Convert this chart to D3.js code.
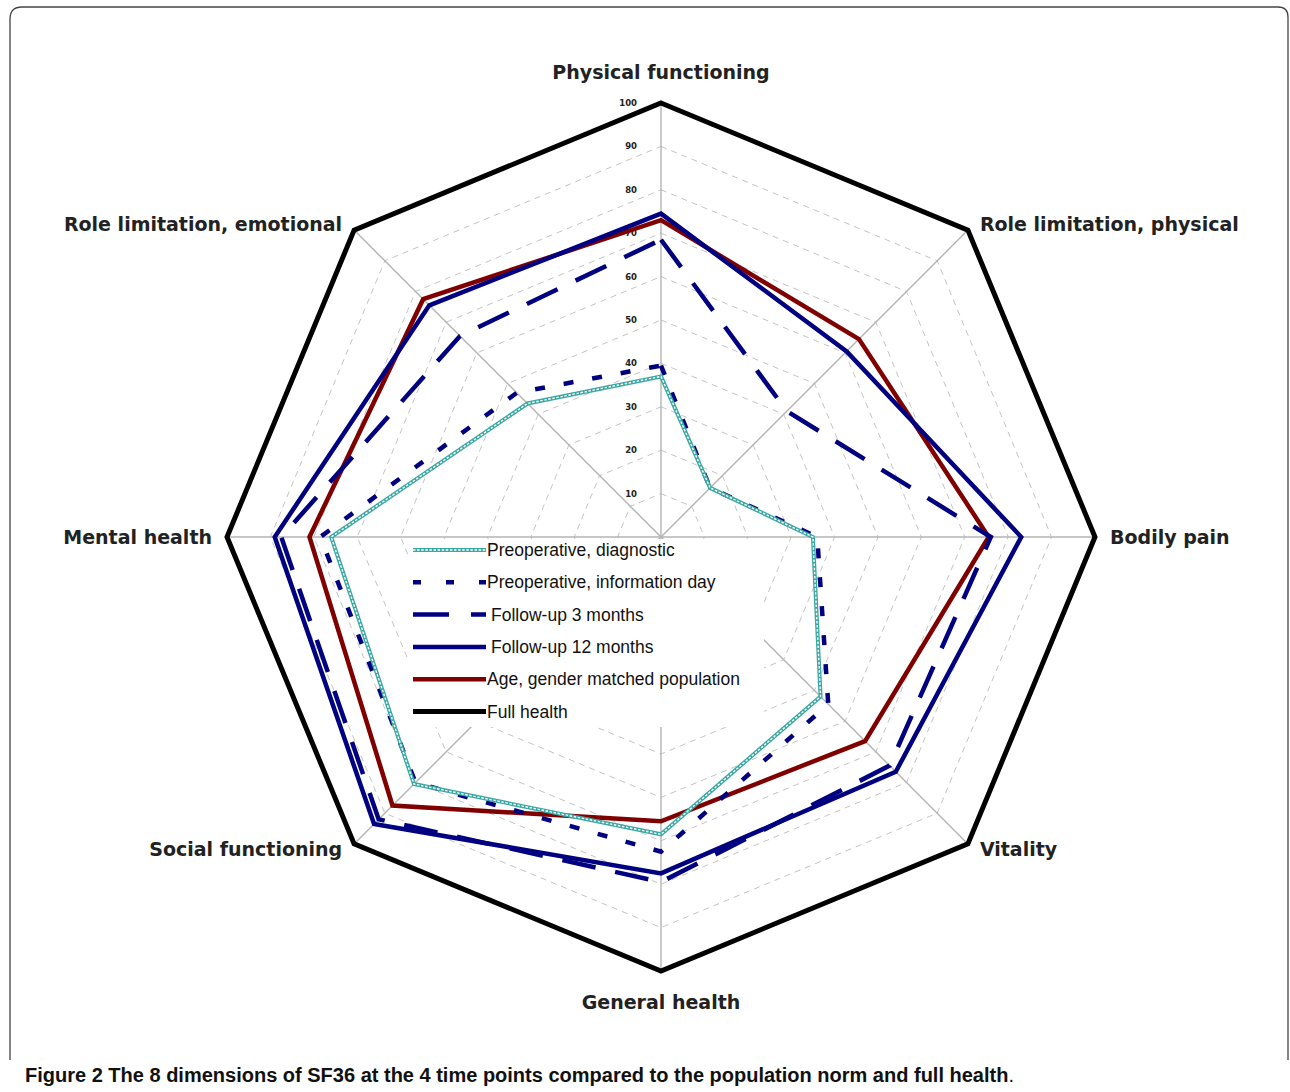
<!DOCTYPE html>
<html>
<head>
<meta charset="utf-8">
<script src="https://cdn.jsdelivr.net/npm/d3@7"></script>
<style>
  body { margin: 0; background: #fff; }
  svg { display: block; }
</style>
</head>
<body>
<div id="chart"></div>
<script>
// SF36 dimensions, clockwise from the top
var axes = ["Physical functioning", "Role limitation, physical", "Bodily pain", "Vitality",
            "General health", "Social functioning", "Mental health", "Role limitation, emotional"];

var diagnostic = [37, 16, 35, 52, 68.5, 80.5, 76, 43.5];
var infoDay    = [39.5, 16, 36, 54.5, 72.5, 80, 78.5, 47];
var followUp3  = [68.5, 41, 76, 74.5, 79.5, 92, 87.5, 65.5];
var followUp12 = [74.5, 60.5, 83, 76.5, 77.5, 93.5, 89, 75.5];
var population = [73, 64.5, 75.5, 66.5, 65.5, 87.5, 81, 77.5];
var fullHealth = [100, 100, 100, 100, 100, 100, 100, 100];

var seriesNames = ["Preoperative, diagnostic", "Preoperative, information day", "Follow-up 3 months",
                   "Follow-up 12 months", "Age, gender matched population", "Full health"];

var ticks = [10, 20, 30, 40, 50, 60, 70, 80, 90, 100];

var W = 1290, H = 1092;
var cx = 661, cy = 537, R = 434;

var svg = d3.select("#chart").append("svg")
    .attr("width", W)
    .attr("height", H);

// frame round the figure
svg.append("path")
  .attr("d", "M10,1060 L10,19 Q10,7 22,7 L1278,7 Q1288,7 1288,17 L1288,1060")
  .attr("fill", "none")
  .attr("stroke", "#444")
  .attr("stroke-width", 1.3);

var r = d3.scaleLinear().domain([0, 100]).range([0, R]);
var angle = d3.scaleLinear().domain([0, axes.length]).range([0, 2 * Math.PI]);

var g = svg.append("g").attr("transform", "translate(" + cx + "," + cy + ")");

var radial = d3.lineRadial()
  .angle(function(d, i) { return angle(i); })
  .radius(function(d) { return r(d); })
  .curve(d3.curveLinearClosed);

// dashed grid octagons
g.selectAll(".grid")
  .data(ticks.slice(0, -1))
  .enter()
  .append("path")
    .attr("d", function(t) { return radial(axes.map(function() { return t; })); })
    .attr("fill", "none")
    .attr("stroke", "#c4c4c4")
    .attr("stroke-width", 1)
    .attr("stroke-dasharray", "6,5");

// spokes
g.selectAll(".spoke")
  .data(axes)
  .enter()
  .append("line")
    .attr("x1", 0).attr("y1", 0)
    .attr("x2", function(d, i) { return r(100) * Math.sin(angle(i)); })
    .attr("y2", function(d, i) { return -r(100) * Math.cos(angle(i)); })
    .attr("stroke", "#b4b4b4")
    .attr("stroke-width", 1.4);

// tick labels on the top axis
g.selectAll(".tick")
  .data(ticks)
  .enter()
  .append("text")
    .attr("x", -24)
    .attr("y", function(t) { return -r(t); })
    .attr("dy", "0.35em")
    .attr("text-anchor", "end")
    .style("font-family", "DejaVu Sans")
    .style("font-weight", "bold")
    .style("font-size", "8.5px")
    .attr("fill", "#222")
    .text(function(t) { return t; });

// axis names
g.selectAll(".axisname")
  .data(axes)
  .enter()
  .append("text")
    .attr("x", function(d, i) {
      var s = Math.sin(angle(i));
      var vx = r(100) * s;
      if (Math.abs(s) < 0.1) return vx;
      return vx + (s > 0 ? 1 : -1) * (Math.abs(s) > 0.9 ? 15 : 12);
    })
    .attr("y", function(d, i) {
      var s = Math.sin(angle(i)), c = Math.cos(angle(i));
      var vy = -r(100) * c;
      return vy - c * (Math.abs(s) < 0.1 ? 31 : 8);
    })
    .attr("dy", "0.36em")
    .attr("text-anchor", function(d, i) {
      var s = Math.sin(angle(i));
      return Math.abs(s) < 0.1 ? "middle" : (s > 0 ? "start" : "end");
    })
    .style("font-family", "DejaVu Sans")
    .style("font-weight", "bold")
    .style("font-size", "19px")
    .attr("fill", "#222")
    .text(function(d) { return d; });

// series
var series = [
  {name: seriesNames[5], values: fullHealth, color: "#000", width: 5, dash: null},
  {name: seriesNames[4], values: population, color: "#800000", width: 4.5, dash: null},
  {name: seriesNames[3], values: followUp12, color: "#000080", width: 4.5, dash: null},
  {name: seriesNames[2], values: followUp3, color: "#000080", width: 4.5, dash: "34,20"},
  {name: seriesNames[1], values: infoDay, color: "#000080", width: 4.5, dash: "10,19"},
  {name: seriesNames[0], values: diagnostic, color: "#3aa8a2", width: 4, dash: null, chain: true}
];

// white box behind the legend
g.append("rect")
  .attr("x", 408 - cx).attr("y", 539 - cy)
  .attr("width", 356).attr("height", 188)
  .attr("fill", "#fff");

series.forEach(function(s) {
  g.append("path")
    .attr("d", radial(s.values))
    .attr("fill", "none")
    .attr("stroke", s.color)
    .attr("stroke-width", s.width)
    .attr("stroke-linejoin", "miter")
    .attr("stroke-dasharray", s.dash);
  if (s.chain) {
    g.append("path")
      .attr("d", radial(s.values))
      .attr("fill", "none")
      .attr("stroke", "#fff")
      .attr("stroke-width", 1.4)
      .attr("stroke-dasharray", "2.5,1.6");
  }
});

// legend
var legend = svg.append("g");
var legendOrder = series.slice().reverse();
legendOrder.forEach(function(s, i) {
  var y = 550 + i * 32.3;
  legend.append("line")
    .attr("x1", 413).attr("x2", 486)
    .attr("y1", y).attr("y2", y)
    .attr("stroke", s.color)
    .attr("stroke-width", s.width)
    .attr("stroke-dasharray", s.dash ? (s.dash === "10,19" ? "8,25" : "36,22") : null);
  if (s.chain) {
    legend.append("line")
      .attr("x1", 413).attr("x2", 486)
      .attr("y1", y).attr("y2", y)
      .attr("stroke", "#fff")
      .attr("stroke-width", 1.4)
      .attr("stroke-dasharray", "2.5,1.6");
  }
  legend.append("text")
    .attr("x", (s.name.indexOf("Follow") === 0) ? 491 : 487)
    .attr("y", y)
    .attr("dy", "0.35em")
    .style("font-family", "Liberation Sans, Arial, sans-serif")
    .style("font-size", "17.5px")
    .attr("fill", "#111")
    .text(s.name);
});

// caption
var cap = svg.append("text")
  .attr("x", 25)
  .attr("y", 1082)
  .style("font-family", "Liberation Sans Narrow, Liberation Sans, sans-serif")
  .style("font-size", "20px")
  .attr("fill", "#111");
cap.append("tspan").style("font-weight", "bold").text("Figure 2 The 8 dimensions of SF36 at the 4 time points compared to the population norm and full health");
cap.append("tspan").text(".");
</script>
</body>
</html>
